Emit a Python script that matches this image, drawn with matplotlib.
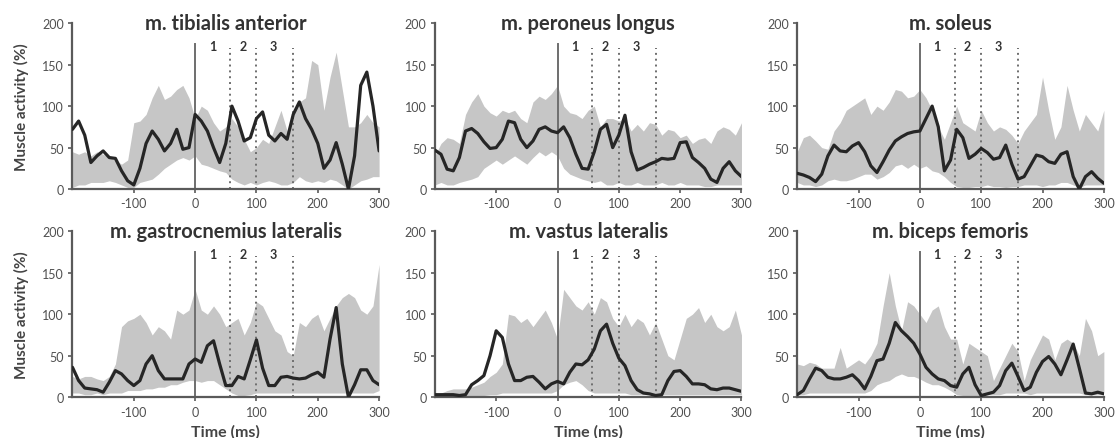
import numpy as np
import matplotlib
matplotlib.use('Agg')
import matplotlib.pyplot as plt

plt.rcParams['font.family'] = ['Lato', 'DejaVu Sans']
plt.rcParams['axes.unicode_minus'] = False

# Time grid (ms), one sample every 10 ms
time_ms = np.arange(-200, 301, 10)

titles = ['m. tibialis anterior', 'm. peroneus longus', 'm. soleus',
          'm. gastrocnemius lateralis', 'm. vastus lateralis', 'm. biceps femoris']

# Mean muscle activity (%)
ta_mean = [72, 82, 65, 32, 40, 46, 38, 37, 22, 10,
           5, 25, 55, 70, 60, 46, 55, 72, 48, 50,
           90, 82, 70, 50, 32, 55, 100, 82, 58, 62,
           85, 93, 65, 58, 67, 60, 90, 105, 85, 72,
           55, 25, 35, 56, 30, 0, 40, 125, 141, 100,
           46]
pl_mean = [47, 42, 24, 22, 38, 70, 73, 67, 57, 49,
           50, 60, 82, 80, 60, 50, 58, 72, 75, 70,
           68, 75, 62, 42, 25, 24, 45, 72, 78, 50,
           65, 89, 45, 23, 26, 30, 33, 37, 36, 37,
           56, 57, 38, 32, 25, 12, 8, 25, 33, 22,
           15]
so_mean = [19, 17, 14, 9, 18, 40, 53, 46, 45, 52,
           56, 45, 28, 20, 33, 47, 58, 63, 67, 69,
           70, 85, 100, 75, 22, 35, 72, 62, 37, 42,
           49, 44, 36, 38, 53, 30, 12, 15, 28, 41,
           39, 33, 31, 42, 45, 15, 0, 15, 21, 13,
           7]
gl_mean = [36, 20, 11, 10, 9, 6, 18, 32, 28, 20,
           14, 20, 40, 50, 32, 22, 22, 22, 22, 40,
           46, 42, 62, 68, 40, 14, 14, 25, 22, 45,
           69, 35, 14, 14, 24, 25, 23, 22, 23, 27,
           30, 24, 70, 108, 40, 0, 15, 33, 33, 20,
           15]
vl_mean = [3, 3, 3, 3, 2, 3, 15, 20, 26, 50,
           80, 72, 40, 20, 20, 24, 25, 18, 10, 16,
           19, 16, 30, 40, 39, 45, 58, 80, 88, 65,
           47, 38, 20, 9, 5, 4, 2, 3, 20, 31,
           32, 25, 16, 16, 15, 10, 9, 11, 11, 9,
           7]
bf_mean = [3, 8, 22, 35, 32, 24, 22, 22, 24, 27,
           20, 10, 25, 44, 46, 65, 90, 80, 73, 65,
           52, 36, 28, 22, 20, 14, 12, 28, 36, 15,
           2, 4, 6, 14, 32, 41, 25, 8, 12, 30,
           43, 49, 40, 27, 45, 64, 35, 5, 4, 6,
           4]

# Upper / lower edge of the grey band
ta_upper = [45, 42, 45, 40, 45, 42, 38, 35, 30, 35,
            80, 82, 90, 110, 125, 108, 112, 120, 125, 110,
            85, 100, 95, 80, 70, 75, 85, 75, 60, 45,
            50, 60, 55, 75, 95, 70, 90, 105, 110, 155,
            150, 95, 135, 165, 120, 75, 75, 80, 90, 80,
            75]
ta_lower = [2, 5, 5, 8, 8, 8, 10, 8, 5, 2,
            2, 8, 10, 12, 18, 25, 30, 35, 38, 35,
            40, 30, 28, 25, 22, 20, 12, 8, 5, 8,
            5, 8, 10, 8, 5, 5, 8, 15, 10, 8,
            10, 8, 12, 10, 5, 0, 5, 10, 12, 15,
            15]
pl_upper = [40, 55, 62, 60, 55, 90, 105, 115, 100, 92,
            88, 95, 92, 95, 85, 80, 105, 112, 108, 115,
            125, 100, 92, 90, 85, 95, 100, 75, 85, 85,
            82, 85, 70, 78, 70, 80, 78, 65, 72, 70,
            62, 65, 55, 60, 62, 55, 70, 75, 72, 65,
            80]
pl_lower = [5, 8, 5, 5, 8, 10, 12, 15, 25, 30,
            35, 30, 35, 40, 35, 30, 38, 45, 40, 45,
            40, 25, 18, 15, 12, 10, 8, 10, 5, 5,
            8, 5, 5, 8, 5, 5, 5, 8, 5, 5,
            8, 5, 5, 5, 3, 3, 5, 5, 5, 5,
            5]
so_upper = [45, 62, 65, 58, 50, 48, 70, 80, 95, 100,
            105, 110, 90, 100, 95, 105, 120, 118, 110, 112,
            120, 110, 95, 75, 60, 80, 100, 80, 75, 70,
            95, 80, 70, 75, 72, 65, 55, 70, 80, 90,
            135, 95, 60, 75, 125, 95, 70, 90, 80, 70,
            95]
so_lower = [8, 5, 5, 3, 5, 10, 12, 10, 10, 12,
            15, 18, 18, 12, 15, 20, 28, 30, 25, 30,
            25, 28, 22, 20, 15, 8, 3, 2, 2, 3,
            3, 5, 3, 3, 2, 3, 3, 5, 5, 5,
            3, 5, 5, 8, 8, 5, 2, 5, 5, 5,
            5]
gl_upper = [25, 22, 25, 25, 22, 20, 25, 40, 85, 92,
            95, 100, 90, 75, 85, 80, 70, 105, 100, 105,
            130, 105, 100, 110, 100, 85, 90, 95, 75, 90,
            115, 110, 95, 80, 75, 55, 50, 90, 85, 95,
            100, 80, 95, 110, 120, 125, 120, 105, 100, 110,
            160]
gl_lower = [5, 5, 3, 3, 5, 3, 5, 5, 5, 8,
            8, 8, 10, 10, 12, 12, 15, 15, 18, 20,
            20, 18, 20, 20, 15, 10, 5, 2, 2, 3,
            5, 5, 5, 5, 5, 5, 5, 5, 5, 5,
            5, 5, 5, 5, 5, 5, 5, 5, 5, 5,
            8]
vl_upper = [3, 5, 8, 10, 10, 10, 12, 15, 18, 25,
            30, 40, 100, 98, 90, 95, 85, 95, 105, 90,
            70, 130, 120, 110, 105, 115, 100, 120, 115, 95,
            85, 100, 85, 95, 90, 75, 90, 70, 50, 45,
            70, 95, 100, 108, 90, 100, 85, 80, 85, 105,
            75]
vl_lower = [0, 0, 0, 0, 0, 0, 0, 0, 2, 3,
            3, 5, 5, 5, 5, 5, 5, 5, 5, 5,
            8, 15, 18, 20, 15, 8, 5, 5, 5, 5,
            5, 5, 3, 3, 3, 3, 3, 3, 3, 3,
            3, 3, 3, 3, 3, 3, 3, 3, 3, 3,
            3]
bf_upper = [40, 38, 42, 40, 35, 35, 35, 60, 35, 40,
            45, 40, 50, 65, 110, 150, 110, 80, 115, 110,
            100, 90, 105, 110, 85, 70, 70, 40, 65, 60,
            55, 50, 20, 35, 50, 65, 55, 20, 45, 60,
            75, 70, 45, 65, 70, 65, 50, 95, 80, 50,
            55]
bf_lower = [3, 3, 5, 5, 5, 5, 5, 5, 5, 5,
            5, 5, 8, 15, 18, 20, 25, 28, 25, 25,
            22, 18, 15, 15, 12, 8, 3, 2, 2, 2,
            2, 3, 3, 3, 5, 5, 5, 5, 3, 5,
            5, 5, 5, 5, 5, 5, 5, 3, 3, 3,
            5]

means = [ta_mean, pl_mean, so_mean, gl_mean, vl_mean, bf_mean]
uppers = [ta_upper, pl_upper, so_upper, gl_upper, vl_upper, bf_upper]
lowers = [ta_lower, pl_lower, so_lower, gl_lower, vl_lower, bf_lower]

# Phase borders (ms) and their labels
phase_lines = [57, 100, 160]
phase_labels = ['1', '2', '3']
phase_label_x = [28, 78, 128]

fig = plt.figure(figsize=(11.15, 4.39), dpi=100)

lefts = [0.065, 0.390, 0.715]
bottoms = [0.567, 0.093]
w, h = 0.275, 0.378

axis_col = '#5a5a5a'
for i in range(6):
    row, col = divmod(i, 3)
    ax = fig.add_axes([lefts[col], bottoms[row], w, h])

    ax.fill_between(time_ms, lowers[i], uppers[i], color='#c6c6c6', lw=0, zorder=1)
    ax.plot([0, 0], [0, 175], color='#6e6e6e', lw=1.4, zorder=2)
    for px in phase_lines:
        ax.plot([px, px], [0, 170], color='#6e6e6e', lw=1.4, ls=(0, (1, 2)), zorder=2)
    for lx, lab in zip(phase_label_x, phase_labels):
        ax.text(lx, 173, lab, ha='center', va='center', fontsize=9, fontweight='bold', color='#333333')
    ax.plot(time_ms, means[i], color='#262626', lw=2.3, zorder=3,
            solid_joinstyle='round', solid_capstyle='round')

    ax.set_xlim(-200, 300)
    ax.set_ylim(0, 200)
    ax.set_xticks([-100, 0, 100, 200, 300])
    ax.set_yticks([0, 50, 100, 150, 200])
    for s in ['top', 'right']:
        ax.spines[s].set_visible(False)
    for s in ['left', 'bottom']:
        ax.spines[s].set_color(axis_col)
        ax.spines[s].set_linewidth(1.6)
    ax.tick_params(colors=axis_col, labelsize=9, length=3, width=1.2, labelcolor='#505050', pad=3)

    ax.text(0.5, 1.0, titles[i], transform=ax.transAxes, ha='center', va='center',
            fontsize=14.5, fontweight='bold', color='#333333')

    if col == 0:
        ax.set_ylabel('Muscle activity (%)', fontsize=11, fontweight='bold', color='#444444', labelpad=10)
    if row == 1:
        ax.set_xlabel('Time (ms)', fontsize=11.5, fontweight='bold', color='#444444', labelpad=5)

fig.savefig('out.png', dpi=100)
